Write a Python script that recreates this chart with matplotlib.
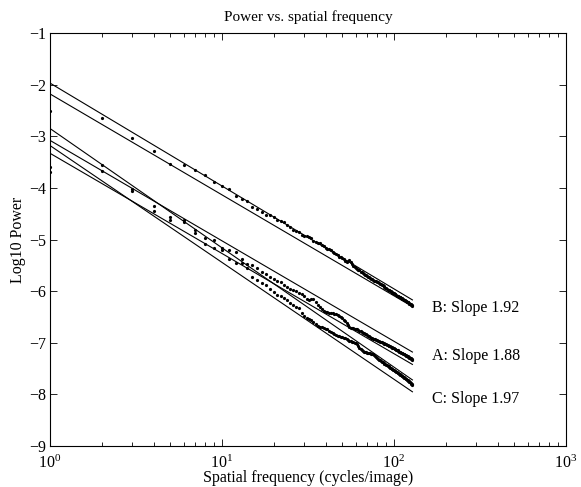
import numpy as np
import matplotlib
matplotlib.use("Agg")
import matplotlib.pyplot as plt
from matplotlib.ticker import LogLocator, FixedLocator

plt.rcParams['font.family'] = ['Liberation Serif', 'DejaVu Serif']
plt.rcParams['mathtext.fontset'] = 'stix'
plt.rcParams['font.size'] = 11.5

# spatial frequency (cycles/image)
freq = np.arange(1, 129)

# log10 power of the three images
power_b = [-2.51, -2.65, -3.04, -3.28, -3.54, -3.56, -3.66, -3.76, -3.89, -3.97, -4.02, -4.15, -4.22, -4.26, -4.37, -4.40,
           -4.47, -4.53, -4.53, -4.56, -4.62, -4.65, -4.67, -4.72, -4.76, -4.81, -4.84, -4.86, -4.91, -4.93, -4.94, -4.96,
           -4.98, -5.02, -5.04, -5.06, -5.07, -5.10, -5.12, -5.16, -5.18, -5.19, -5.21, -5.25, -5.27, -5.28, -5.30, -5.33,
           -5.34, -5.36, -5.38, -5.41, -5.43, -5.42, -5.40, -5.43, -5.47, -5.51, -5.54, -5.56, -5.58, -5.59, -5.60, -5.62,
           -5.63, -5.65, -5.67, -5.68, -5.69, -5.71, -5.72, -5.73, -5.75, -5.76, -5.77, -5.78, -5.80, -5.80, -5.81, -5.83,
           -5.83, -5.85, -5.86, -5.87, -5.89, -5.89, -5.91, -5.92, -5.94, -5.94, -5.95, -5.97, -5.97, -5.98, -6.00, -6.00,
           -6.01, -6.03, -6.03, -6.04, -6.06, -6.06, -6.07, -6.09, -6.09, -6.10, -6.12, -6.12, -6.12, -6.14, -6.14, -6.15,
           -6.16, -6.18, -6.17, -6.18, -6.20, -6.20, -6.21, -6.22, -6.22, -6.23, -6.25, -6.24, -6.25, -6.27, -6.26, -6.28]

power_a = [-3.60, -3.56, -4.02, -4.35, -4.56, -4.63, -4.81, -4.97, -5.01, -5.16, -5.21, -5.25, -5.37, -5.48, -5.49, -5.56,
           -5.62, -5.66, -5.72, -5.76, -5.80, -5.83, -5.88, -5.92, -5.95, -5.97, -6.00, -6.03, -6.06, -6.10, -6.15, -6.18,
           -6.16, -6.15, -6.21, -6.26, -6.30, -6.35, -6.38, -6.40, -6.41, -6.42, -6.42, -6.43, -6.44, -6.45, -6.46, -6.48,
           -6.51, -6.53, -6.55, -6.58, -6.62, -6.66, -6.70, -6.71, -6.72, -6.72, -6.73, -6.74, -6.74, -6.76, -6.77, -6.78,
           -6.80, -6.81, -6.82, -6.83, -6.84, -6.85, -6.86, -6.87, -6.89, -6.90, -6.91, -6.92, -6.92, -6.93, -6.94, -6.95,
           -6.96, -6.97, -6.98, -6.98, -6.99, -7.00, -7.01, -7.02, -7.03, -7.03, -7.04, -7.05, -7.06, -7.07, -7.07, -7.08,
           -7.09, -7.10, -7.11, -7.11, -7.12, -7.13, -7.14, -7.14, -7.15, -7.16, -7.17, -7.17, -7.18, -7.19, -7.20, -7.20,
           -7.21, -7.22, -7.22, -7.23, -7.24, -7.25, -7.26, -7.26, -7.27, -7.28, -7.29, -7.29, -7.30, -7.31, -7.32, -7.33]

power_c = [-3.69, -3.68, -4.07, -4.44, -4.63, -4.66, -4.88, -5.08, -5.16, -5.21, -5.37, -5.45, -5.46, -5.56, -5.72, -5.78,
           -5.84, -5.88, -5.95, -6.01, -6.07, -6.10, -6.13, -6.18, -6.23, -6.27, -6.30, -6.33, -6.42, -6.49, -6.52, -6.54,
           -6.55, -6.60, -6.64, -6.68, -6.69, -6.70, -6.72, -6.73, -6.74, -6.77, -6.79, -6.81, -6.84, -6.85, -6.86, -6.87,
           -6.88, -6.89, -6.90, -6.91, -6.93, -6.95, -6.96, -6.97, -6.98, -6.99, -7.00, -7.01, -7.03, -7.06, -7.10, -7.13,
           -7.15, -7.16, -7.17, -7.18, -7.18, -7.19, -7.19, -7.20, -7.20, -7.21, -7.21, -7.22, -7.24, -7.26, -7.28, -7.30,
           -7.31, -7.33, -7.34, -7.36, -7.37, -7.38, -7.40, -7.41, -7.42, -7.43, -7.44, -7.45, -7.46, -7.47, -7.48, -7.49,
           -7.50, -7.51, -7.52, -7.53, -7.54, -7.55, -7.56, -7.57, -7.58, -7.59, -7.60, -7.61, -7.62, -7.63, -7.64, -7.65,
           -7.66, -7.67, -7.68, -7.69, -7.70, -7.71, -7.72, -7.73, -7.74, -7.75, -7.76, -7.77, -7.78, -7.79, -7.80, -7.81]

# fitted lines: log10 power at f=1 and f=128
line_f = [1, 128]
fit_lines = [[-1.97, -6.17],
             [-2.18, -6.30],
             [-2.85, -7.72],
             [-3.08, -7.18],
             [-3.18, -7.95],
             [-3.33, -7.42]]

labels = ['B: Slope 1.92', 'A: Slope 1.88', 'C: Slope 1.97']
label_y = [-6.33, -7.25, -8.08]

fig = plt.figure(figsize=(5.81, 4.87), dpi=100)
ax = fig.add_axes([0.0861, 0.0842, 0.888, 0.848])

for fl in fit_lines:
    ax.plot(line_f, fl, color='k', lw=0.8)

for p in [power_b, power_a, power_c]:
    ax.plot(freq, p, 'o', color='k', ms=2.3, mew=0)

for lab, yy in zip(labels, label_y):
    ax.text(166, yy, lab, va='center', ha='left')

ax.set_xscale('log')
ax.set_xlim(1, 1000)
ax.set_ylim(-9, -1)
ax.yaxis.set_major_locator(FixedLocator(range(-9, 0)))
ax.xaxis.set_major_locator(LogLocator(base=10, numticks=10))
ax.xaxis.set_minor_locator(LogLocator(base=10, subs=np.arange(2, 10), numticks=10))
ax.tick_params(which='both', direction='in', top=True, right=True, width=0.6)
ax.tick_params(which='major', length=5)
ax.tick_params(which='minor', length=3)
ax.tick_params(axis='x', which='major', pad=6)
ax.tick_params(axis='y', which='major', pad=3)
for s in ax.spines.values():
    s.set_linewidth(0.8)

ax.set_title('Power vs. spatial frequency', fontsize=11, pad=9)
ax.set_xlabel('Spatial frequency (cycles/image)', labelpad=-1)
ax.set_ylabel('Log10 Power', labelpad=2)

fig.savefig('out.png', dpi=100)
